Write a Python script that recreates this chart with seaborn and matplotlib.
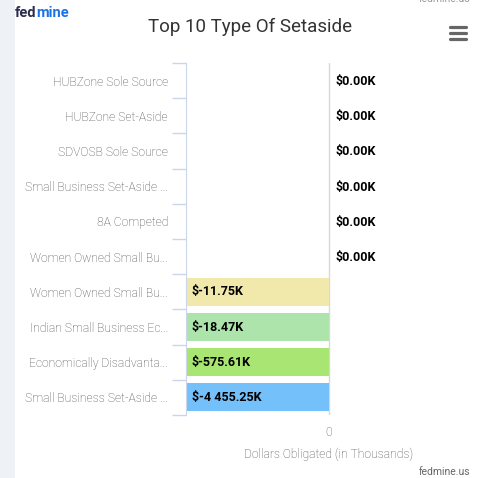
#top 10 setaside types - horizontal bar chart
import matplotlib
matplotlib.use("Agg")
import matplotlib.pyplot as plt
import matplotlib.transforms as mtransforms
from matplotlib.patches import Rectangle
from matplotlib.lines import Line2D
import seaborn as sns
import pandas as pd

#data
labels = ["HUBZone Sole Source", "HUBZone Set-Aside", "SDVOSB Sole Source",
          "Small Business Set-Aside ...", "8A Competed", "Women Owned Small Bu...",
          "Women Owned Small Bu...", "Indian Small Business Ec...",
          "Economically Disadvanta...", "Small Business Set-Aside ..."]
values = [0.0, 0.0, 0.0, 0.0, 0.0, 0.0, -11.75, -18.47, -575.61, -4455.25]
colors = ["#7cb5ec", "#7cb5ec", "#7cb5ec", "#7cb5ec", "#7cb5ec", "#7cb5ec",
          "#f1e8ac", "#ace4ab", "#a9e573", "#74c0fa"]

df = pd.DataFrame({"idx": range(len(labels)), "value": values})

sns.set_style("white")
plt.rcParams['font.family'] = ['Roboto', 'DejaVu Sans']

fig = plt.figure(figsize=(4.81, 4.78), dpi=100)
W, H = 481, 478
ax = fig.add_axes([186 / W, 1 - 415 / H, (472 - 186) / W, (415 - 63) / H])

sns.barplot(data=df, x="value", y="idx", hue="idx", palette=colors, orient="h",
            width=0.8, legend=False, ax=ax, saturation=1, linewidth=0)

ax.set_xlim(-10, 10)
ax.set_ylim(len(labels) - 0.5, -0.5)
ax.set_xticks([0])
ax.set_xticklabels(["0"], color="#4d4d4d", fontsize=8.7, fontweight="light")
ax.tick_params(axis="x", length=0, pad=8)
ax.set_xlabel("Dollars Obligated (in Thousands)", color="#4d4d4d", fontsize=8.7,
              fontweight="light", labelpad=6)
ax.set_ylabel("")
ax.set_yticks(range(len(labels)))
ax.set_yticklabels(labels, color="#4d4d4d", fontsize=8.7, fontweight="light")
ax.set_yticks([i - 0.5 for i in range(len(labels) + 1)], minor=True)
ax.tick_params(axis="y", which="major", left=True, length=0, pad=13)
ax.tick_params(axis="y", which="minor", left=True, length=10, width=1, color="#ccd6eb")
ax.axvline(0, color="#d8d8d8", lw=1, zorder=0.5)
for s in ["top", "right", "bottom"]:
    ax.spines[s].set_visible(False)
ax.spines["left"].set_color("#ccd6eb")

#value labels
trans_left = mtransforms.blended_transform_factory(ax.transAxes, ax.transData)
offset = mtransforms.offset_copy(ax.transData, fig=fig, x=7, y=-1, units="dots")
for i, v in enumerate(values):
    txt = "$" + format(v, ",.2f").replace(",", " ") + "K"
    if v < 0:
        ax.text(0.02, i, txt, transform=trans_left, va="center", ha="left",
                fontsize=9, fontweight="bold", color="black")
    else:
        ax.text(0, i, txt, transform=offset, va="center", ha="left",
                fontsize=9, fontweight="bold", color="black")

#title and decorations
fig.text(250 / W, 1 - 27 / H, "Top 10 Type Of Setaside", ha="center", va="center",
         fontsize=13.5, color="#333333")
fig.patches.append(Rectangle((0, 0), 15 / W, 1, transform=fig.transFigure,
                             facecolor="#eef2f7", edgecolor="none", zorder=0))
fed = fig.text(15 / W, 1 - 13 / H, "fed", ha="left", va="center", fontsize=10.5,
               fontweight="bold", color="#2b2d4f")
renderer = fig.canvas.get_renderer()
bb = fed.get_window_extent(renderer)
fig.text(bb.x1 / W, 1 - 13 / H, "mine", ha="left", va="center", fontsize=10.5,
         fontweight="bold", color="#1a73e8")
fig.text(470 / W, 1 - 472 / H, "fedmine.us", ha="right", va="center",
         fontsize=7.5, color="#666666")
fig.text(470 / W, 1 + 1 / H, "fedmine.us", ha="right", va="center",
         fontsize=7.5, color="#999999")
for yy in [27, 33, 39]:
    fig.lines.append(Line2D([450 / W, 466 / W], [1 - yy / H, 1 - yy / H],
                            transform=fig.transFigure, color="#666666", lw=2.3,
                            solid_capstyle="round"))

fig.savefig("out.png", dpi=100)
